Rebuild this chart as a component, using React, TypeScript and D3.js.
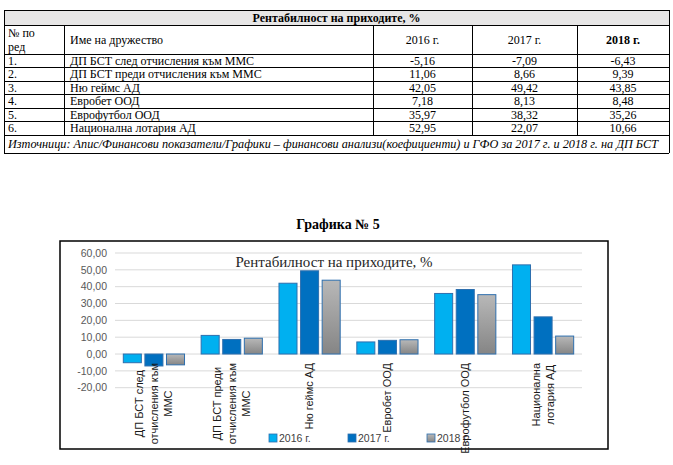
import React from "react";
import * as d3 from "d3";

const W = 673;
const H = 465;

const tableTitle = "Рентабилност на приходите, %";
const chartHeading = "Графика № 5";
const chartTitle = "Рентабилност на приходите, %";
const companies = [
  "ДП БСТ след отчисления към ММС",
  "ДП БСТ преди отчисления към ММС",
  "Ню геймс АД",
  "Евробет ООД",
  "Еврофутбол ООД",
  "Национална лотария АД",
];
const chartLabels = [
  ["ДП БСТ след", "отчисления към", "ММС"],
  ["ДП БСТ преди", "отчисления към", "ММС"],
  ["Ню геймс АД"],
  ["Евробет ООД"],
  ["Еврофутбол ООД"],
  ["Национална", "лотария АД"],
];
const rowNumbers = ["1.", "2.", "3.", "4.", "5.", "6."];
const years = ["2016 г.", "2017 г.", "2018 г."];
const values2016 = [-5.16, 11.06, 42.05, 7.18, 35.97, 52.95];
const values2017 = [-7.09, 8.66, 49.42, 8.13, 38.32, 22.07];
const values2018 = [-6.43, 9.39, 43.85, 8.48, 35.26, 10.66];
const yTicks = [-20, -10, 0, 10, 20, 30, 40, 50, 60];
const sourceText =
  "Източници: Апис/Финансови показатели/Графики – финансови анализи(коефициенти) и ГФО за 2017 г. и 2018 г. на ДП БСТ";

const series = [values2016, values2017, values2018];
const fmt = (v: number) => v.toFixed(2).replace(".", ",");

let ctx: CanvasRenderingContext2D | null = null;
function measure(text: string, font: string) {
  if (!ctx) ctx = document.createElement("canvas").getContext("2d");
  if (!ctx) return text.length * 6;
  ctx.font = font;
  return ctx.measureText(text).width;
}

// table layout
const colX = [4, 64, 373, 472, 577, 669];
const rowY = [10, 25, 54, 67.5, 81, 94.5, 108, 121.5, 135, 153];
const serif = "'Liberation Serif', 'Times New Roman', serif";
const sans = "'Liberation Sans', Arial, sans-serif";

// chart layout
const box = { x: 60, y: 241, w: 548, h: 208 };
const plot = { left: 115, right: 582, top: 253, bottom: 387.7 };
const labelTop = 363;
const labelFs = 11;
const lineGap = 14.5;
const legendX = [269, 348, 427];
const legendY = 434;

const fills = ["#00b0f0", "#0070c0", "url(#grayGrad)"];
const barStroke = "#2e6fae";

export default function App() {
  const x0 = d3
    .scaleBand<number>()
    .domain(d3.range(companies.length))
    .range([plot.left, plot.right]);
  const x1 = d3
    .scaleBand<number>()
    .domain(d3.range(series.length))
    .range([0, x0.bandwidth()])
    .paddingInner(0.165)
    .paddingOuter(0.385);
  const y = d3.scaleLinear().domain([-20, 60]).range([plot.bottom, plot.top]);
  const y0 = y(0);

  const labelFont = `${labelFs}px ${sans}`;

  return (
    <div style={{ position: "absolute", left: 0, top: 0 }}>
      <svg width={W} height={H} style={{ display: "block", background: "#fff" }}>
        <defs>
          <linearGradient id="grayGrad" x1="0" y1="0" x2="0" y2="1">
            <stop offset="0%" stopColor="#b8b8b8" />
            <stop offset="100%" stopColor="#858585" />
          </linearGradient>
        </defs>
        <rect x={0} y={0} width={W} height={H} fill="#fff" />

        {/* ===== TABLE ===== */}
        <rect x={colX[0]} y={rowY[0]} width={colX[5] - colX[0]} height={rowY[1] - rowY[0]} fill="#e7e6e6" />
        <g stroke="#000" strokeWidth={1} shapeRendering="crispEdges">
          {rowY.map((ry, i) => (
            <line key={"h" + i} x1={colX[0]} x2={colX[5]} y1={ry} y2={ry} />
          ))}
          <line x1={colX[0]} x2={colX[0]} y1={rowY[0]} y2={rowY[9]} />
          <line x1={colX[5]} x2={colX[5]} y1={rowY[0]} y2={rowY[9]} />
          {colX.slice(1, 5).map((cx, i) => (
            <line key={"v" + i} x1={cx} x2={cx} y1={rowY[1]} y2={rowY[8]} />
          ))}
        </g>
        <g fontFamily={serif} fontSize={12} fill="#000">
          <text x={(colX[0] + colX[5]) / 2} y={21.5} textAnchor="middle" fontWeight="bold">
            {tableTitle}
          </text>
          <text x={8} y={37}>№ по</text>
          <text x={8} y={51}>ред</text>
          <text x={colX[1] + 6} y={44}>Име на дружество</text>
          {years.map((yr, j) => (
            <text
              key={yr}
              x={(colX[2 + j] + colX[3 + j]) / 2}
              y={44}
              textAnchor="middle"
              fontWeight={j === 2 ? "bold" : "normal"}
            >
              {yr}
            </text>
          ))}
          {companies.map((name, i) => {
            const cy = (rowY[2 + i] + rowY[3 + i]) / 2 + 4;
            return (
              <g key={name}>
                <text x={8} y={cy}>{rowNumbers[i]}</text>
                <text x={colX[1] + 6} y={cy}>{name}</text>
                {series.map((s, j) => (
                  <text key={j} x={(colX[2 + j] + colX[3 + j]) / 2} y={cy} textAnchor="middle">
                    {fmt(s[i])}
                  </text>
                ))}
              </g>
            );
          })}
          <text x={8} y={148} fontStyle="italic" textLength={650} lengthAdjust="spacingAndGlyphs">
            {sourceText}
          </text>
        </g>

        {/* ===== CHART ===== */}
        <text x={338} y={229} textAnchor="middle" fontFamily={serif} fontSize={14} fontWeight="bold" fill="#000">
          {chartHeading}
        </text>
        <rect x={box.x} y={box.y} width={box.w} height={box.h} fill="#fff" stroke="#000" strokeWidth={1.5} />

        <g>
          {yTicks.map((t) => (
            <g key={t}>
              <line x1={plot.left} x2={plot.right} y1={y(t)} y2={y(t)} stroke="#d9d9d9" strokeWidth={1} />
              <text x={107} y={y(t)} dy="0.35em" textAnchor="end" fontFamily={sans} fontSize={10.5} fill="#595959">
                {fmt(t)}
              </text>
            </g>
          ))}
        </g>

        <text x={334} y={267} textAnchor="middle" fontFamily={serif} fontSize={15} fill="#262626">
          {chartTitle}
        </text>

        <g>
          {companies.map((_, i) =>
            series.map((s, j) => {
              const v = s[i];
              const yv = y(v);
              return (
                <rect
                  key={i + "-" + j}
                  x={(x0(i) as number) + (x1(j) as number)}
                  y={Math.min(yv, y0)}
                  width={x1.bandwidth()}
                  height={Math.abs(yv - y0)}
                  fill={fills[j]}
                  stroke={barStroke}
                  strokeWidth={1}
                />
              );
            })
          )}
        </g>

        {/* legend */}
        <g fontFamily={sans} fontSize={10.5} fill="#404040">
          {years.map((yr, j) => (
            <g key={yr}>
              <rect x={legendX[j]} y={legendY} width={8} height={8} fill={fills[j]} stroke={barStroke} strokeWidth={0.8} />
              <text x={legendX[j] + 10} y={legendY + 8}>{yr}</text>
            </g>
          ))}
        </g>

        {/* category labels */}
        <g fontFamily={sans} fontSize={labelFs} fill="#1a1a1a">
          {chartLabels.map((lines, i) => {
            const cx = (x0(i) as number) + x0.bandwidth() / 2;
            const blockLen = Math.max(...lines.map((l) => measure(l, labelFont)));
            const n = lines.length;
            return (
              <g key={i}>
                {lines.map((ln, k) => (
                  <text
                    key={k}
                    transform={`translate(${cx + (k - (n - 1) / 2) * lineGap},${labelTop}) rotate(-90)`}
                    x={-blockLen / 2}
                    y={0}
                    dy="0.35em"
                    textAnchor="middle"
                  >
                    {ln}
                  </text>
                ))}
              </g>
            );
          })}
        </g>
      </svg>
    </div>
  );
}
